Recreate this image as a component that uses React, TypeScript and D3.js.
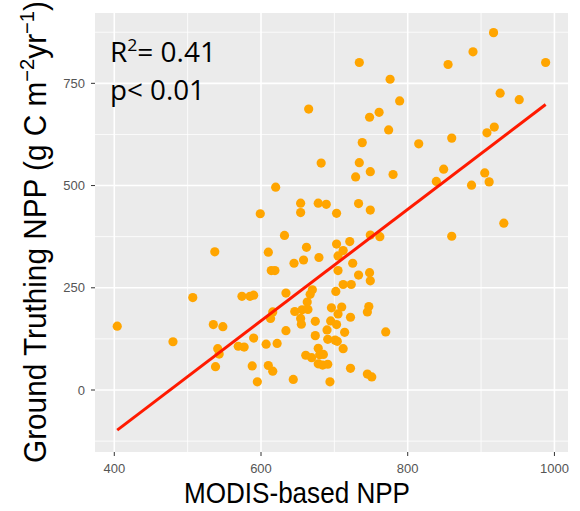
import React from "react";
import * as d3 from "d3";

// MODIS-based NPP (x) and ground-truthing NPP (y)
const modisNPP: number[] = [
  404, 480, 507, 535, 548, 537, 541, 543, 538, 569, 577, 574, 585, 590, 590, 588,
  595, 599, 607, 610, 616, 610, 614, 619, 616, 613, 620, 622, 632, 634, 634, 644,
  645, 646, 654, 654, 656, 654, 655, 658, 661, 662, 663, 664, 667, 670, 665, 669,
  674, 674, 678, 679, 678, 678, 682, 680, 685, 684, 691, 689, 690, 691, 694, 696,
  695, 702, 703, 703, 703, 701, 704, 705, 705, 705, 710, 712, 712, 712, 714, 721,
  722, 723, 722, 725, 729, 733, 733, 734, 734, 738, 747, 745, 745, 748, 748, 749,
  749, 749, 749, 751, 761, 762, 770, 774, 776, 780, 789, 815, 839, 849, 860, 855,
  860, 887, 889, 905, 908, 911, 917, 918, 926, 931, 952, 988,
];
const groundNPP: number[] = [
  156, 118, 226, 160, 155, 338, 101, 88, 57, 107, 105, 229, 229, 232, 127, 59,
  20, 431, 112, 60, 46, 337, 292, 292, 191, 175, 496, 114, 378, 237, 145, 26,
  310, 192, 457, 434, 196, 175, 161, 318, 85, 349, 215, 197, 234, 245, 687, 79,
  168, 133, 457, 324, 102, 64, 555, 86, 87, 61, 63, 454, 147, 124, 20, 201,
  169, 241, 432, 357, 160, 122, 119, 328, 292, 186, 203, 341, 258, 101, 141, 363,
  178, 258, 53, 310, 521, 456, 281, 801, 556, 605, 204, 191, 39, 667, 287, 534,
  440, 379, 267, 32, 679, 375, 142, 636, 760, 527, 707, 602, 510, 540, 616, 796,
  376, 501, 827, 531, 629, 509, 874, 643, 726, 408, 710, 801,
];

// fitted regression line
const fitSlope = 1.3636;
const fitIntercept = -649;

const xTicks = [400, 600, 800, 1000];
const xMinor = [500, 700, 900];
const yTicks = [0, 250, 500, 750];
const yMinor = [-125, 125, 375, 625, 875];

const xTitle = "MODIS-based NPP";
const statR2 = "0.41";
const statP = "0.01";

export default function App() {
  const W = 580;
  const H = 511;
  const panel = { left: 95, right: 568, top: 13, bottom: 452 };

  const x = d3.scaleLinear().domain([373.7, 1018.5]).range([panel.left, panel.right]);
  const y = d3.scaleLinear().domain([-151.6, 922]).range([panel.bottom, panel.top]);

  const xMinData = d3.min(modisNPP) as number;
  const xMaxData = d3.max(modisNPP) as number;
  const lineGen = d3
    .line<number>()
    .x((d) => x(d))
    .y((d) => y(fitIntercept + fitSlope * d));

  const tickColor = "#555";

  return (
    <svg
      width={W}
      height={H}
      style={{ position: "absolute", left: 0, top: 0, background: "#fff" }}
      fontFamily="'Liberation Sans', Arial, sans-serif"
    >
      <rect
        x={panel.left}
        y={panel.top}
        width={panel.right - panel.left}
        height={panel.bottom - panel.top}
        fill="#EBEBEB"
      />
      {xMinor.map((v) => (
        <line key={"xm" + v} x1={x(v)} x2={x(v)} y1={panel.top} y2={panel.bottom} stroke="#fff" strokeWidth={0.8} />
      ))}
      {yMinor.map((v) => (
        <line key={"ym" + v} x1={panel.left} x2={panel.right} y1={y(v)} y2={y(v)} stroke="#fff" strokeWidth={0.8} />
      ))}
      {xTicks.map((v) => (
        <line key={"xg" + v} x1={x(v)} x2={x(v)} y1={panel.top} y2={panel.bottom} stroke="#fff" strokeWidth={1.6} />
      ))}
      {yTicks.map((v) => (
        <line key={"yg" + v} x1={panel.left} x2={panel.right} y1={y(v)} y2={y(v)} stroke="#fff" strokeWidth={1.6} />
      ))}

      {modisNPP.map((v, i) => (
        <circle key={"p" + i} cx={x(v)} cy={y(groundNPP[i])} r={4.6} fill="#FFA500" />
      ))}

      <path d={lineGen([xMinData, xMaxData]) || ""} stroke="#FF1A00" strokeWidth={3} fill="none" />

      {/* axis ticks */}
      {xTicks.map((v) => (
        <g key={"xt" + v}>
          <line x1={x(v)} x2={x(v)} y1={panel.bottom} y2={panel.bottom + 4} stroke="#333" strokeWidth={1} />
          <text x={x(v)} y={panel.bottom + 21} textAnchor="middle" fontSize={13} fill={tickColor}>
            {v}
          </text>
        </g>
      ))}
      {yTicks.map((v) => (
        <g key={"yt" + v}>
          <line x1={panel.left - 4} x2={panel.left} y1={y(v)} y2={y(v)} stroke="#333" strokeWidth={1} />
          <text x={panel.left - 10} y={y(v) + 4.6} textAnchor="end" fontSize={13} fill={tickColor}>
            {v}
          </text>
        </g>
      ))}

      {/* axis titles */}
      <text x={297} y={503} textAnchor="middle" fontSize={30} fill="#000" textLength={226} lengthAdjust="spacingAndGlyphs">
        {xTitle}
      </text>
      <text
        transform={`translate(46, 232) rotate(-90)`}
        textAnchor="middle"
        fontSize={31}
        fill="#000"
        textLength={462}
        lengthAdjust="spacingAndGlyphs"
      >
        Ground Truthing NPP (g C m
        <tspan fontSize={21} dy={-12}>−2</tspan>
        <tspan dy={12}>yr</tspan>
        <tspan fontSize={21} dy={-12}>−1</tspan>
        <tspan dy={12}>)</tspan>
      </text>

      {/* statistics annotation */}
      <text x={110} y={62} fontSize={27} fill="#000" fontFamily="'Open Sans', sans-serif" textLength={106} lengthAdjust="spacingAndGlyphs">
        R<tspan fontSize={17} dy={-11}>2</tspan>
        <tspan dy={11}>= {statR2}</tspan>
      </text>
      <text x={110} y={100} fontSize={27} fill="#000" fontFamily="'Open Sans', sans-serif" textLength={95} lengthAdjust="spacingAndGlyphs">
        p&lt; {statP}
      </text>
    </svg>
  );
}
